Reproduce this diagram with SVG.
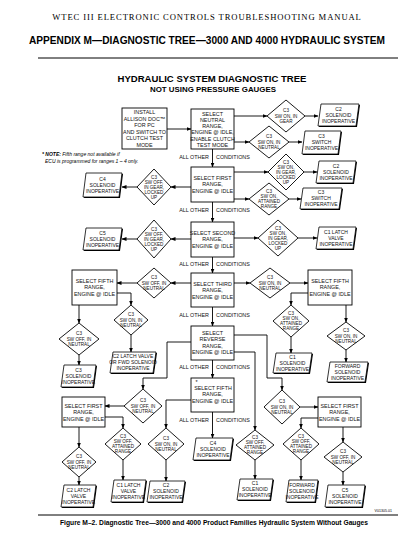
<svg xmlns="http://www.w3.org/2000/svg" width="414" height="544" viewBox="0 0 414 544">
<style>
.bg{fill:#fff}
.box{fill:#fff;stroke:#000;stroke-width:0.9}
.dia{fill:#fff;stroke:#000;stroke-width:0.9}
.par{fill:#fff;stroke:#000;stroke-width:0.8}
.sh{fill:#000}
.bt{font-family:"Liberation Sans Narrow","Liberation Sans",Arial,sans-serif;font-size:5.4px;text-anchor:middle;fill:#111}
.dt{font-family:"Liberation Sans Narrow","Liberation Sans",Arial,sans-serif;font-size:4.6px;text-anchor:middle;fill:#111}
.pt{font-family:"Liberation Sans Narrow","Liberation Sans",Arial,sans-serif;font-size:5px;text-anchor:middle;fill:#111}
.ao{font-family:"Liberation Sans Narrow","Liberation Sans",Arial,sans-serif;font-size:5.4px;fill:#111}
.c{fill:none;stroke:#000;stroke-width:0.9}
</style>
<defs>
<marker id="ah" markerWidth="5" markerHeight="4" refX="4.5" refY="2" orient="auto" markerUnits="userSpaceOnUse">
<path d="M0,0 L5,2 L0,4 Z" fill="#000"/>
</marker>
</defs>
<rect class="bg" x="0" y="0" width="414" height="544"/>
<g id="header">
<text x="207" y="20" font-family="Liberation Serif,serif" font-size="8.6" text-anchor="middle" letter-spacing="0.9">WTEC III ELECTRONIC CONTROLS TROUBLESHOOTING MANUAL</text>
<text x="207" y="44" font-family="Liberation Sans,Arial,sans-serif" font-size="10.5" font-weight="bold" text-anchor="middle" textLength="356" lengthAdjust="spacingAndGlyphs">APPENDIX M—DIAGNOSTIC TREE—3000 AND 4000 HYDRAULIC SYSTEM</text>
<line x1="38" y1="58" x2="398" y2="58" stroke="#000" stroke-width="1"/>
<line x1="38" y1="515" x2="398" y2="515" stroke="#000" stroke-width="1"/>
<text x="214" y="525" font-family="Liberation Sans,Arial,sans-serif" font-size="6.4" font-weight="bold" text-anchor="middle" textLength="308" lengthAdjust="spacingAndGlyphs">Figure M–2.  Diagnostic Tree—3000 and 4000 Product Families Hydraulic System Without Gauges</text>
<text x="392" y="512" font-family="Liberation Sans,Arial,sans-serif" font-size="3.6" text-anchor="end">V01305.01</text>
<text x="212" y="82" font-family="Liberation Sans,Arial,sans-serif" font-size="9.5" font-weight="bold" text-anchor="middle" textLength="189" lengthAdjust="spacingAndGlyphs">HYDRAULIC SYSTEM  DIAGNOSTIC TREE</text>
<text x="213" y="92" font-family="Liberation Sans,Arial,sans-serif" font-size="7.5" font-weight="bold" text-anchor="middle" textLength="126" lengthAdjust="spacingAndGlyphs">NOT USING PRESSURE GAUGES</text>
<text x="42" y="156" font-family="Liberation Sans Narrow,Liberation Sans,Arial,sans-serif" font-size="5" font-style="italic"><tspan font-weight="bold">* NOTE:</tspan> Fifth range not available if</text>
<text x="45" y="163" font-family="Liberation Sans Narrow,Liberation Sans,Arial,sans-serif" font-size="5" font-style="italic">ECU is programmed for ranges 1 – 4 only.</text>
</g>
<g id="connectors">
<path class="c" d="M167,129 H191" marker-end="url(#ah)"/>
<path class="c" d="M234,116 H267" marker-end="url(#ah)"/>
<path class="c" d="M234,142 H249" marker-end="url(#ah)"/>
<path class="c" d="M305,116 H318" marker-end="url(#ah)"/>
<path class="c" d="M289,142 H302" marker-end="url(#ah)"/>
<path class="c" d="M212.5,149 V167" marker-end="url(#ah)"/>
<path class="c" d="M191,187 H171" marker-end="url(#ah)"/>
<path class="c" d="M137,187 H122" marker-end="url(#ah)"/>
<path class="c" d="M234,172 H268" marker-end="url(#ah)"/>
<path class="c" d="M304,172 H317" marker-end="url(#ah)"/>
<path class="c" d="M234,199 H249" marker-end="url(#ah)"/>
<path class="c" d="M289,199 H301" marker-end="url(#ah)"/>
<path class="c" d="M212.5,202 V222" marker-end="url(#ah)"/>
<path class="c" d="M191,239 H171" marker-end="url(#ah)"/>
<path class="c" d="M137,239 H122" marker-end="url(#ah)"/>
<path class="c" d="M234,238 H258" marker-end="url(#ah)"/>
<path class="c" d="M298,238 H317" marker-end="url(#ah)"/>
<path class="c" d="M212.5,257 V273" marker-end="url(#ah)"/>
<path class="c" d="M191,283 H171" marker-end="url(#ah)"/>
<path class="c" d="M137,283 H117" marker-end="url(#ah)"/>
<path class="c" d="M79,305 V323" marker-end="url(#ah)"/>
<path class="c" d="M79,355 V365" marker-end="url(#ah)"/>
<path class="c" d="M117,293 H131 V305" marker-end="url(#ah)"/>
<path class="c" d="M131,335 V352" marker-end="url(#ah)"/>
<path class="c" d="M234,283 H250" marker-end="url(#ah)"/>
<path class="c" d="M290,283 H308" marker-end="url(#ah)"/>
<path class="c" d="M308,293 H291 V305" marker-end="url(#ah)"/>
<path class="c" d="M291,337 V353" marker-end="url(#ah)"/>
<path class="c" d="M346,305 V322" marker-end="url(#ah)"/>
<path class="c" d="M346,350 V362" marker-end="url(#ah)"/>
<path class="c" d="M212.5,307 V326" marker-end="url(#ah)"/>
<path class="c" d="M191,342 H167 V378 H143 V389" marker-end="url(#ah)"/>
<path class="c" d="M124,406 H105" marker-end="url(#ah)"/>
<path class="c" d="M79,427 V447" marker-end="url(#ah)"/>
<path class="c" d="M79,477 V485" marker-end="url(#ah)"/>
<path class="c" d="M105,417 H123 V428" marker-end="url(#ah)"/>
<path class="c" d="M123,460 V480" marker-end="url(#ah)"/>
<path class="c" d="M212.5,360 V378" marker-end="url(#ah)"/>
<path class="c" d="M191,400 H166 V428" marker-end="url(#ah)"/>
<path class="c" d="M166,460 V481" marker-end="url(#ah)"/>
<path class="c" d="M212.5,412 V438" marker-end="url(#ah)"/>
<path class="c" d="M234,335 H267 V378 H282 V390" marker-end="url(#ah)"/>
<path class="c" d="M234,352 H255 V430" marker-end="url(#ah)"/>
<path class="c" d="M255,460 V479" marker-end="url(#ah)"/>
<path class="c" d="M300,407 H318" marker-end="url(#ah)"/>
<path class="c" d="M343,427 V442" marker-end="url(#ah)"/>
<path class="c" d="M343,472 V485" marker-end="url(#ah)"/>
<path class="c" d="M318,418 H301 V428" marker-end="url(#ah)"/>
<path class="c" d="M301,460 V480" marker-end="url(#ah)"/>
</g>
<g id="labels">
<text class="ao" x="209" y="159" text-anchor="end">ALL OTHER</text><text class="ao" x="216" y="159">CONDITIONS</text>
<text class="ao" x="209" y="212" text-anchor="end">ALL OTHER</text><text class="ao" x="216" y="212">CONDITIONS</text>
<text class="ao" x="209" y="266" text-anchor="end">ALL OTHER</text><text class="ao" x="216" y="266">CONDITIONS</text>
<text class="ao" x="209" y="317" text-anchor="end">ALL OTHER</text><text class="ao" x="216" y="317">CONDITIONS</text>
<text class="ao" x="209" y="369" text-anchor="end">ALL OTHER</text><text class="ao" x="216" y="369">CONDITIONS</text>
<text class="ao" x="209" y="422" text-anchor="end">ALL OTHER</text><text class="ao" x="216" y="422">CONDITIONS</text>
</g>
<g id="b0"><rect class="box" x="122" y="108" width="45" height="41"/>
<text class="bt" x="144.5" y="114">INSTALL</text><text class="bt" x="144.5" y="120.5">ALLISON DOC™</text><text class="bt" x="144.5" y="127">FOR PC</text><text class="bt" x="144.5" y="133.5">AND SWITCH TO</text><text class="bt" x="144.5" y="140">CLUTCH TEST</text><text class="bt" x="144.5" y="146.5">MODE</text></g>
<g id="b1"><rect class="box" x="191" y="109" width="43" height="40"/>
<text class="bt" x="212.5" y="115.5">SELECT</text><text class="bt" x="212.5" y="121.8">NEUTRAL</text><text class="bt" x="212.5" y="128.1">RANGE,</text><text class="bt" x="212.5" y="134.4">ENGINE @ IDLE,</text><text class="bt" x="212.5" y="140.7">ENABLE CLUTCH</text><text class="bt" x="212.5" y="147">TEST MODE</text></g>
<g id="b2"><rect class="box" x="191" y="167" width="43" height="35"/>
<text class="bt" x="212.5" y="179.5">SELECT FIRST</text><text class="bt" x="212.5" y="186.3">RANGE,</text><text class="bt" x="212.5" y="193.1">ENGINE @ IDLE</text></g>
<g id="b3"><rect class="box" x="191" y="222" width="43" height="35"/>
<text class="bt" x="212.5" y="234.5">SELECT SECOND</text><text class="bt" x="212.5" y="241.3">RANGE,</text><text class="bt" x="212.5" y="248.1">ENGINE @ IDLE</text></g>
<g id="b4"><rect class="box" x="191" y="273" width="43" height="34"/>
<text class="bt" x="212.5" y="285.5">SELECT THIRD</text><text class="bt" x="212.5" y="292.3">RANGE,</text><text class="bt" x="212.5" y="299.1">ENGINE @ IDLE</text></g>
<g id="b5"><rect class="box" x="191" y="326" width="43" height="34"/>
<text class="bt" x="212.5" y="334.5">SELECT</text><text class="bt" x="212.5" y="341">REVERSE</text><text class="bt" x="212.5" y="347.5">RANGE,</text><text class="bt" x="212.5" y="354">ENGINE @ IDLE</text></g>
<g id="b6"><rect class="box" x="191" y="378" width="43" height="34"/>
<text class="bt" x="196.5" y="384" font-size="7">*</text>
<text class="bt" x="213" y="389.5">SELECT FIFTH</text><text class="bt" x="212.5" y="396.3">RANGE,</text><text class="bt" x="212.5" y="403.1">ENGINE @ IDLE</text></g>
<g id="b7"><rect class="box" x="72" y="270" width="45" height="35"/>
<text class="bt" x="94.5" y="282.5">SELECT FIFTH</text><text class="bt" x="94.5" y="289.3">RANGE,</text><text class="bt" x="94.5" y="296.1">ENGINE @ IDLE</text></g>
<g id="b8"><rect class="box" x="308" y="270" width="44" height="35"/>
<text class="bt" x="330" y="282.5">SELECT FIFTH</text><text class="bt" x="330" y="289.3">RANGE,</text><text class="bt" x="330" y="296.1">ENGINE @ IDLE</text></g>
<g id="b9"><rect class="box" x="62" y="397" width="43" height="30"/>
<text class="bt" x="83.5" y="407.5">SELECT FIRST</text><text class="bt" x="83.5" y="414">RANGE,</text><text class="bt" x="83.5" y="420.5">ENGINE @ IDLE</text></g>
<g id="b10"><rect class="box" x="318" y="397" width="43" height="30"/>
<text class="bt" x="339.5" y="407.5">SELECT FIRST</text><text class="bt" x="339.5" y="414">RANGE,</text><text class="bt" x="339.5" y="420.5">ENGINE @ IDLE</text></g>
<g id="d1"><polygon class="dia" points="286,100 305,116 286,132 267,116"/>
<text class="dt" x="286" y="112">C3</text><text class="dt" x="286" y="117.5">SW ON, IN</text><text class="dt" x="286" y="123">GEAR</text></g>
<g id="d2"><polygon class="dia" points="269,126 289,142 269,158 249,142"/>
<text class="dt" x="269" y="138">C3</text><text class="dt" x="269" y="143.5">SW ON, IN</text><text class="dt" x="269" y="149">NEUTRAL</text></g>
<g id="d3"><polygon class="dia" points="154,169 171,187 154,205 137,187"/>
<text class="dt" x="154" y="178.5">C3</text><text class="dt" x="154" y="183.5">SW OFF,</text><text class="dt" x="154" y="188.5">IN GEAR,</text><text class="dt" x="154" y="193.5">LOCKED</text><text class="dt" x="154" y="198.5">UP</text></g>
<g id="d4"><polygon class="dia" points="286,154 304,172 286,190 268,172"/>
<text class="dt" x="286" y="163.5">C3</text><text class="dt" x="286" y="168.5">SW ON,</text><text class="dt" x="286" y="173.5">IN GEAR,</text><text class="dt" x="286" y="178.5">LOCKED</text><text class="dt" x="286" y="183.5">UP</text></g>
<g id="d5"><polygon class="dia" points="269,183 289,199 269,215 249,199"/>
<text class="dt" x="269" y="193">C3</text><text class="dt" x="269" y="198">SW ON,</text><text class="dt" x="269" y="203">ATTAINED</text><text class="dt" x="269" y="208">RANGE</text></g>
<g id="d6"><polygon class="dia" points="154,220 171,239 154,258 137,239"/>
<text class="dt" x="154" y="230.5">C3</text><text class="dt" x="154" y="235.5">SW OFF,</text><text class="dt" x="154" y="240.5">IN GEAR,</text><text class="dt" x="154" y="245.5">LOCKED</text><text class="dt" x="154" y="250.5">UP</text></g>
<g id="d7"><polygon class="dia" points="278,220 298,238 278,256 258,238"/>
<text class="dt" x="278" y="229.5">C3</text><text class="dt" x="278" y="234.5">SW ON,</text><text class="dt" x="278" y="239.5">IN GEAR,</text><text class="dt" x="278" y="244.5">LOCKED</text><text class="dt" x="278" y="249.5">UP</text></g>
<g id="d8"><polygon class="dia" points="154,268 171,283 154,298 137,283"/>
<text class="dt" x="154" y="279">C3</text><text class="dt" x="154" y="284.5">SW OFF, IN</text><text class="dt" x="154" y="290">NEUTRAL</text></g>
<g id="d9"><polygon class="dia" points="79,323 99,339 79,355 59,339"/>
<text class="dt" x="79" y="335">C3</text><text class="dt" x="79" y="340.5">SW OFF, IN</text><text class="dt" x="79" y="346">NEUTRAL</text></g>
<g id="d10"><polygon class="dia" points="131,305 148,320 131,335 114,320"/>
<text class="dt" x="131" y="316">C3</text><text class="dt" x="131" y="321.5">SW ON, IN</text><text class="dt" x="131" y="327">NEUTRAL</text></g>
<g id="d11"><polygon class="dia" points="270,268 290,283 270,298 250,283"/>
<text class="dt" x="270" y="279">C3</text><text class="dt" x="270" y="284.5">SW ON, IN</text><text class="dt" x="270" y="290">NEUTRAL</text></g>
<g id="d12"><polygon class="dia" points="291,305 309,321 291,337 273,321"/>
<text class="dt" x="291" y="315">C3</text><text class="dt" x="291" y="320">SW ON,</text><text class="dt" x="291" y="325">ATTAINED</text><text class="dt" x="291" y="330">RANGE</text></g>
<g id="d13"><polygon class="dia" points="346,322 365,336 346,350 327,336"/>
<text class="dt" x="346" y="332">C3</text><text class="dt" x="346" y="337.5">SW ON, IN</text><text class="dt" x="346" y="343">NEUTRAL</text></g>
<g id="d14"><polygon class="dia" points="143,389 162,406 143,423 124,406"/>
<text class="dt" x="143" y="402">C3</text><text class="dt" x="143" y="407.5">SW OFF, IN</text><text class="dt" x="143" y="413">NEUTRAL</text></g>
<g id="d15"><polygon class="dia" points="79,447 96,462 79,477 62,462"/>
<text class="dt" x="79" y="458">C3</text><text class="dt" x="79" y="463.5">SW OFF, IN</text><text class="dt" x="79" y="469">NEUTRAL</text></g>
<g id="d16"><polygon class="dia" points="123,428 141,444 123,460 105,444"/>
<text class="dt" x="123" y="438">C3</text><text class="dt" x="123" y="443">SW OFF,</text><text class="dt" x="123" y="448">ATTAINED</text><text class="dt" x="123" y="453">RANGE</text></g>
<g id="d18"><polygon class="dia" points="166,428 184,444 166,460 148,444"/>
<text class="dt" x="166" y="440">C3</text><text class="dt" x="166" y="445.5">SW ON, IN</text><text class="dt" x="166" y="451">NEUTRAL</text></g>
<g id="d19"><polygon class="dia" points="282,390 300,407 282,424 264,407"/>
<text class="dt" x="282" y="403">C3</text><text class="dt" x="282" y="408.5">SW ON, IN</text><text class="dt" x="282" y="414">NEUTRAL</text></g>
<g id="d20"><polygon class="dia" points="255,430 274,445 255,460 236,445"/>
<text class="dt" x="255" y="439">C3</text><text class="dt" x="255" y="444">SW OFF,</text><text class="dt" x="255" y="449">ATTAINED</text><text class="dt" x="255" y="454">RANGE</text></g>
<g id="d21"><polygon class="dia" points="343,442 362,457 343,472 324,457"/>
<text class="dt" x="343" y="453">C3</text><text class="dt" x="343" y="458.5">SW OFF, IN</text><text class="dt" x="343" y="464">NEUTRAL</text></g>
<g id="d22"><polygon class="dia" points="301,428 319,444 301,460 283,444"/>
<text class="dt" x="301" y="438">C3</text><text class="dt" x="301" y="443">SW OFF,</text><text class="dt" x="301" y="448">ATTAINED</text><text class="dt" x="301" y="453">RANGE</text></g>
<g id="p1"><polygon class="sh" points="322,105 360,105 357,127 319,127"/><polygon class="par" points="321,104 359,104 356,126 318,126"/>
<text class="pt" x="338.5" y="110.7">C2</text><text class="pt" x="338.5" y="116.7">SOLENOID</text><text class="pt" x="338.5" y="122.7">INOPERATIVE</text></g>
<g id="p2"><polygon class="sh" points="306,132 342,132 339,155 303,155"/><polygon class="par" points="305,131 341,131 338,154 302,154"/>
<text class="pt" x="321.5" y="138.2">C3</text><text class="pt" x="321.5" y="144.2">SWITCH</text><text class="pt" x="321.5" y="150.2">INOPERATIVE</text></g>
<g id="p3"><polygon class="sh" points="87,174 123,174 120,198 84,198"/><polygon class="par" points="86,173 122,173 119,197 83,197"/>
<text class="pt" x="102.5" y="180.7">C4</text><text class="pt" x="102.5" y="186.7">SOLENOID</text><text class="pt" x="102.5" y="192.7">INOPERATIVE</text></g>
<g id="p4"><polygon class="sh" points="320,162 357,162 354,184 317,184"/><polygon class="par" points="319,161 356,161 353,183 316,183"/>
<text class="pt" x="336" y="167.7">C2</text><text class="pt" x="336" y="173.7">SOLENOID</text><text class="pt" x="336" y="179.7">INOPERATIVE</text></g>
<g id="p5"><polygon class="sh" points="304,189 343,189 340,210 301,210"/><polygon class="par" points="303,188 342,188 339,209 300,209"/>
<text class="pt" x="321" y="194.2">C3</text><text class="pt" x="321" y="200.2">SWITCH</text><text class="pt" x="321" y="206.2">INOPERATIVE</text></g>
<g id="p6"><polygon class="sh" points="87,229 123,229 120,251 84,251"/><polygon class="par" points="86,228 122,228 119,250 83,250"/>
<text class="pt" x="102.5" y="234.7">C5</text><text class="pt" x="102.5" y="240.7">SOLENOID</text><text class="pt" x="102.5" y="246.7">INOPERATIVE</text></g>
<g id="p7"><polygon class="sh" points="320,228 357,228 354,250 317,250"/><polygon class="par" points="319,227 356,227 353,249 316,249"/>
<text class="pt" x="336" y="233.7">C1 LATCH</text><text class="pt" x="336" y="239.7">VALVE</text><text class="pt" x="336" y="245.7">INOPERATIVE</text></g>
<g id="p9"><polygon class="sh" points="65,366 97,366 94,388 62,388"/><polygon class="par" points="64,365 96,365 93,387 61,387"/>
<text class="pt" x="78.5" y="371.7">C3</text><text class="pt" x="78.5" y="377.7">SOLENOID</text><text class="pt" x="78.5" y="383.7">INOPERATIVE</text></g>
<g id="p10"><polygon class="sh" points="114,353 157,353 154,374 111,374"/><polygon class="par" points="113,352 156,352 153,373 110,373"/>
<text class="pt" x="133" y="358.2">C2 LATCH VALVE</text><text class="pt" x="133" y="364.2">OR FWD SOLENOID</text><text class="pt" x="133" y="370.2">INOPERATIVE</text></g>
<g id="p12"><polygon class="sh" points="277,354 313,354 310,374 274,374"/><polygon class="par" points="276,353 312,353 309,373 273,373"/>
<text class="pt" x="292.5" y="358.7">C1</text><text class="pt" x="292.5" y="364.7">SOLENOID</text><text class="pt" x="292.5" y="370.7">INOPERATIVE</text></g>
<g id="p13"><polygon class="sh" points="331,363 369,363 366,383 328,383"/><polygon class="par" points="330,362 368,362 365,382 327,382"/>
<text class="pt" x="347.5" y="367.7">FORWARD</text><text class="pt" x="347.5" y="373.7">SOLENOID</text><text class="pt" x="347.5" y="379.7">INOPERATIVE</text></g>
<g id="p15"><polygon class="sh" points="65,486 97,486 94,508 62,508"/><polygon class="par" points="64,485 96,485 93,507 61,507"/>
<text class="pt" x="78.5" y="491.7">C2 LATCH</text><text class="pt" x="78.5" y="497.7">VALVE</text><text class="pt" x="78.5" y="503.7">INOPERATIVE</text></g>
<g id="p16"><polygon class="sh" points="115,481 147,481 144,503 112,503"/><polygon class="par" points="114,480 146,480 143,502 111,502"/>
<text class="pt" x="128.5" y="486.7">C1 LATCH</text><text class="pt" x="128.5" y="492.7">VALVE</text><text class="pt" x="128.5" y="498.7">INOPERATIVE</text></g>
<g id="p17"><polygon class="sh" points="197,439 234,439 231,461 194,461"/><polygon class="par" points="196,438 233,438 230,460 193,460"/>
<text class="pt" x="213" y="444.7">C4</text><text class="pt" x="213" y="450.7">SOLENOID</text><text class="pt" x="213" y="456.7">INOPERATIVE</text></g>
<g id="p18"><polygon class="sh" points="151,482 186,482 183,503 148,503"/><polygon class="par" points="150,481 185,481 182,502 147,502"/>
<text class="pt" x="166" y="487.2">C2</text><text class="pt" x="166" y="493.2">SOLENOID</text><text class="pt" x="166" y="499.2">INOPERATIVE</text></g>
<g id="p20"><polygon class="sh" points="241,480 274,480 271,501 238,501"/><polygon class="par" points="240,479 273,479 270,500 237,500"/>
<text class="pt" x="255" y="485.2">C1</text><text class="pt" x="255" y="491.2">SOLENOID</text><text class="pt" x="255" y="497.2">INOPERATIVE</text></g>
<g id="p21"><polygon class="sh" points="329,486 366,486 363,508 326,508"/><polygon class="par" points="328,485 365,485 362,507 325,507"/>
<text class="pt" x="345" y="491.7">C5</text><text class="pt" x="345" y="497.7">SOLENOID</text><text class="pt" x="345" y="503.7">INOPERATIVE</text></g>
<g id="p22"><polygon class="sh" points="290,481 319,481 316,503 287,503"/><polygon class="par" points="289,480 318,480 315,502 286,502"/>
<text class="pt" x="302" y="486.7">FORWARD</text><text class="pt" x="302" y="492.7">SOLENOID</text><text class="pt" x="302" y="498.7">INOPERATIVE</text></g>
</svg>
